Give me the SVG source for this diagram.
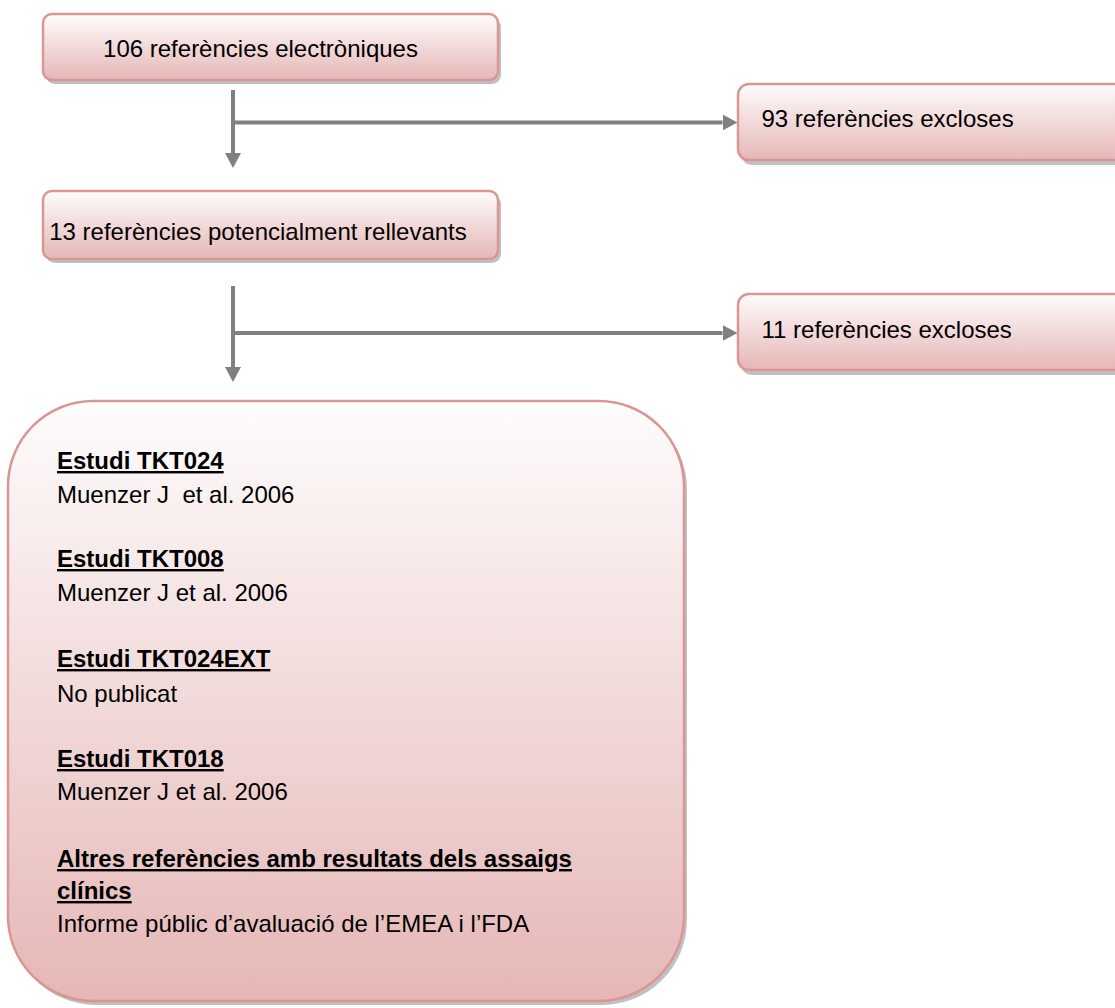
<svg xmlns="http://www.w3.org/2000/svg" width="1115" height="1008" viewBox="0 0 1115 1008">
<defs>
<linearGradient id="g" x1="0" y1="0" x2="0" y2="1">
<stop offset="0" stop-color="#fefcfc"/>
<stop offset="1" stop-color="#e5b7b6"/>
</linearGradient>
<marker id="ah" viewBox="0 0 15 16" refX="0" refY="8" markerWidth="15" markerHeight="16" orient="auto" markerUnits="userSpaceOnUse">
<path d="M0,0 L15,8 L0,16 z" fill="#808080"/>
</marker>
</defs>
<style>
.box{fill:url(#g);stroke:#d99694;stroke-width:2.5}
.sh{fill:#8c8c8c;opacity:0.55}
.t{font-family:"Liberation Sans",Arial,sans-serif;font-size:24px;fill:#000}
.h{font-weight:bold;text-decoration:underline}
.c{stroke:#808080;stroke-width:4;fill:none}
</style>
<g id="n1">
<rect class="sh" x="46" y="18" width="455" height="66" rx="9"/>
<rect class="box" x="43" y="14" width="455" height="66" rx="9"/>
<text class="t" x="260.5" y="57" text-anchor="middle">106 referències electròniques</text>
</g>
<g id="n2">
<rect class="sh" x="46" y="195" width="455" height="68" rx="9"/>
<rect class="box" x="43" y="191" width="455" height="68" rx="9"/>
<text class="t" x="258" y="240" text-anchor="middle">13 referències potencialment rellevants</text>
</g>
<g id="n3">
<rect class="sh" x="741" y="88" width="400" height="77" rx="11"/>
<rect class="box" x="738" y="84" width="400" height="76" rx="11"/>
<text class="t" x="761.5" y="127">93 referències excloses</text>
</g>
<g id="n4">
<rect class="sh" x="741" y="298" width="400" height="77" rx="11"/>
<rect class="box" x="738" y="294" width="400" height="76" rx="11"/>
<text class="t" x="761.5" y="338">11 referències excloses</text>
</g>
<g id="n5">
<rect class="sh" x="11" y="404" width="676" height="601" rx="85"/>
<rect class="box" x="8" y="401" width="676" height="600" rx="85"/>
<text class="t h" x="57" y="469">Estudi TKT024</text>
<text class="t" x="57" y="502.5" xml:space="preserve">Muenzer J  et al. 2006</text>
<text class="t h" x="57" y="567">Estudi TKT008</text>
<text class="t" x="57" y="600.5">Muenzer J et al. 2006</text>
<text class="t h" x="57" y="667">Estudi TKT024EXT</text>
<text class="t" x="57" y="701.5">No publicat</text>
<text class="t h" x="57" y="767">Estudi TKT018</text>
<text class="t" x="57" y="800">Muenzer J et al. 2006</text>
<text class="t h" x="57" y="867">Altres referències amb resultats dels assaigs</text>
<text class="t h" x="57" y="899">clínics</text>
<text class="t" x="57" y="932">Informe públic d’avaluació de l’EMEA i l’FDA</text>
</g>
<g id="connectors">
<path class="c" d="M233,90 V153" marker-end="url(#ah)"/>
<path class="c" d="M233,122.5 H722.5" marker-end="url(#ah)"/>
<path class="c" d="M233,286 V367" marker-end="url(#ah)"/>
<path class="c" d="M233,333 H722.5" marker-end="url(#ah)"/>
</g>
</svg>
